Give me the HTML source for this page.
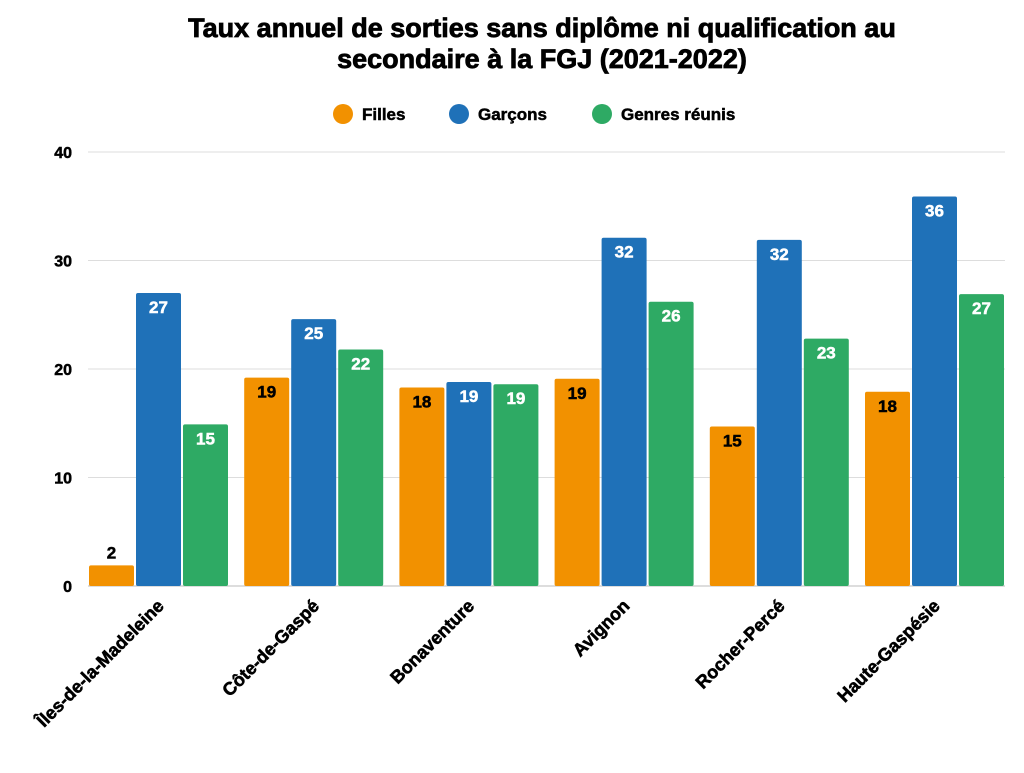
<!DOCTYPE html>
<html><head><meta charset="utf-8"><style>
body{margin:0;background:#fff;width:1024px;height:768px;overflow:hidden;font-family:"Liberation Sans",sans-serif}
</style></head><body>
<svg id="chart" width="1024" height="768" xmlns="http://www.w3.org/2000/svg" font-family="Liberation Sans, sans-serif">
<text x="542" y="37" text-anchor="middle" font-size="27" font-weight="bold" stroke="#000" stroke-width="0.8">Taux annuel de sorties sans diplôme ni qualification au</text>
<text x="542" y="68" text-anchor="middle" font-size="27" font-weight="bold" stroke="#000" stroke-width="0.8">secondaire à la FGJ (2021-2022)</text>
<g font-size="17" font-weight="bold" stroke="#000" stroke-width="0.5">
<g><circle cx="343" cy="114" r="10" fill="#f29100" stroke="none"/><text x="362" y="120">Filles</text></g>
<g><circle cx="459" cy="114" r="10" fill="#1f71b8" stroke="none"/><text x="478" y="120">Garçons</text></g>
<g><circle cx="602" cy="114" r="10" fill="#2eaa64" stroke="none"/><text x="621" y="120">Genres réunis</text></g>
</g>
<g id="grid"></g><g id="bars"></g><g id="xl"></g>
</svg>
<script>
const categories=["Îles-de-la-Madeleine","Côte-de-Gaspé","Bonaventure","Avignon","Rocher-Percé","Haute-Gaspésie"];
const filles=[1.9,19.2,18.3,19.1,14.7,17.9];
const garcons=[27.0,24.6,18.8,32.1,31.9,35.9];
const genres=[14.9,21.8,18.6,26.2,22.8,26.9];
const yTicks=[0,10,20,30,40];
const NS="http://www.w3.org/2000/svg";
const y0=586,pxPerUnit=10.85;
const y=v=>y0-v*pxPerUnit;
const gx=i=>89+155.2*i;
function mk(t,a,p){const e=document.createElementNS(NS,t);for(const k in a)e.setAttribute(k,a[k]);p.appendChild(e);return e;}
const grid=document.getElementById('grid');
yTicks.forEach(t=>{
 const l=mk('line',{x1:88,x2:1005,y1:y(t),y2:y(t),stroke:t===0?'#bbb':'#ddd','stroke-width':1},grid);
 
 
 const tx=mk('text',{x:72,y:y(t)+6,'text-anchor':'end','font-size':16,'font-weight':'bold',stroke:'#000','stroke-width':0.5},grid);
 tx.textContent=t;
 
 
});
const series=[[filles,'#f29100','#000','filles'],[garcons,'#1f71b8','#fff','garcons'],[genres,'#2eaa64','#fff','genres']];
const bars=document.getElementById('bars');
categories.forEach((c,i)=>{
 series.forEach(([vals,col,tc,nm],s)=>{
  const v=vals[i],x=gx(i)+s*47,w=45;
  const r=mk('rect',{x:x,y:y(v),width:w,height:y0-y(v),fill:col,rx:2},bars);
  
  
  const inside=(y0-y(v))>30;
  const fc=inside?tc:'#000';
  const t=mk('text',{x:x+w/2,y:inside?y(v)+20:y(v)-7,'text-anchor':'middle','font-size':17,'font-weight':'bold',fill:fc,stroke:fc,'stroke-width':0.5},bars);
  t.textContent=Math.round(v);
  
  
 });
 const cx=gx(i)+76;
 const t=mk('text',{x:cx,y:607,'text-anchor':'end','font-size':18,'font-weight':'bold',stroke:'#000','stroke-width':0.6,transform:`rotate(-45 ${cx} 607)`},document.getElementById('xl'));
 t.textContent=c;
 
 
});
</script>
</body></html>
